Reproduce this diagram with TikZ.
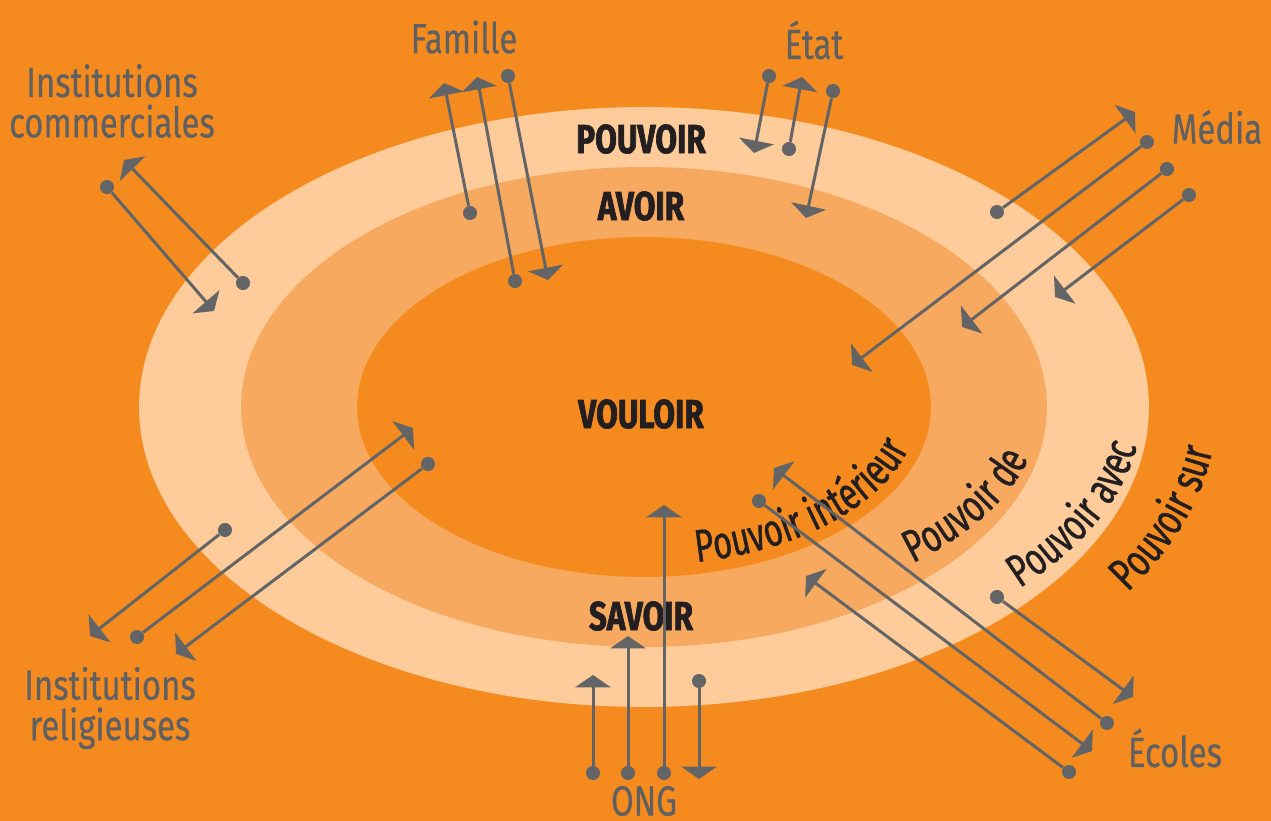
\documentclass[tikz,border=0pt]{standalone}
\usepackage{fontspec}
\setmainfont{Fira Sans}[FakeStretch=0.78,FakeBold=0.4,BoldFeatures={FakeBold=1.6}]
\newfontfamily\ringfamily{Fira Sans}[FakeStretch=0.71,FakeBold=1]
\usetikzlibrary{arrows.meta,decorations.text}
\definecolor{bgorange}{RGB}{245,139,31}
\definecolor{midband}{RGB}{248,169,96}
\definecolor{lightband}{RGB}{253,204,154}
\definecolor{arrowgray}{RGB}{99,100,102}
\definecolor{labelgray}{RGB}{95,96,98}
\definecolor{inkblack}{RGB}{35,31,32}
\newcommand\ringfont{\ringfamily\fontsize{26}{26}\selectfont\color{inkblack}}
\tikzset{
  >={Triangle[width=20pt,length=7pt]},
}
\tikzstyle{link}=[arrowgray,line width=1.7pt,->]
\tikzstyle{dot}=[circle,fill=arrowgray,inner sep=0pt,minimum size=8pt]
\tikzstyle{actor}=[labelgray,font=\fontsize{24}{23}\selectfont,align=center]
\tikzstyle{level}=[inkblack,font=\fontsize{23}{23}\selectfont\bfseries]
\tikzstyle{ring}=[decorate,decoration={text along path,text align=left}]

\begin{document}
\begin{tikzpicture}[x=0.02cm,y=-0.02cm]
    \useasboundingbox (0,0) rectangle (1271,821);
    \fill[bgorange] (0,0) rectangle (1271,821);
    \coordinate (centre) at (644,407);
    \fill[lightband] (centre) ellipse [x radius=10.1cm,y radius=6cm];
    \fill[midband] (centre) ellipse [x radius=8.06cm,y radius=4.8cm];
    \fill[bgorange] (centre) ellipse [x radius=5.74cm,y radius=3.4cm];

    \node[level] (pouvoir) at (641,139) {POUVOIR};
    \node[level] (avoir) at (641,206) {AVOIR};
    \node[level] (vouloir) at (641,414) {VOULOIR};
    \node[level] (savoir) at (641,616) {SAVOIR};

    \path[ring,decoration={text={|\ringfont|Pouvoir intérieur}}]
    (centre) ++(-78.9:5.49cm and 3.16cm)
    arc[start angle=-78.9,end angle=5,x radius=5.49cm,y radius=3.16cm];
    \path[ring,decoration={text={|\ringfont|Pouvoir de}}]
    (centre) ++(-47.3:7.93cm and 4.25cm)
    arc[start angle=-47.3,end angle=10,x radius=7.93cm,y radius=4.25cm];
    \path[ring,decoration={text={|\ringfont|Pouvoir avec}}]
    (centre) ++(-41:9.96cm and 5.52cm)
    arc[start angle=-41,end angle=10,x radius=9.96cm,y radius=5.52cm];
    \path[ring,decoration={text={|\ringfont|Pouvoir sur}}]
    (centre) ++(-32.4:11.46cm and 6.91cm)
    arc[start angle=-32.4,end angle=10,x radius=11.46cm,y radius=6.91cm];

    \node[actor] (famille) at (464,37) {Famille};
    \node[actor] (etat) at (814,40) {État};
    \node[actor] (media) at (1217,127) {Média};
    \node[actor] (commerce) at (112,101) {Institutions\\commerciales};
    \node[actor] (religion) at (110,708) {Institutions\\religieuses};
    \node[actor] (ong) at (644,801) {ONG};
    \node[actor] (ecoles) at (1175,748) {Écoles};

    \node[dot] (fam1) at (470,213) {}; \coordinate (fam1t) at (444,83);
    \node[dot] (fam2) at (515,281) {}; \coordinate (fam2t) at (477,77);
    \node[dot] (fam3) at (508,76) {}; \coordinate (fam3t) at (548,280);
    \draw[link] (fam1) -- (fam1t);
    \draw[link] (fam2) -- (fam2t);
    \draw[link] (fam3) -- (fam3t);

    \node[dot] (etat1) at (769,76) {}; \coordinate (etat1t) at (754,153);
    \node[dot] (etat2) at (789,149) {}; \coordinate (etat2t) at (802,77);
    \node[dot] (etat3) at (833,91) {}; \coordinate (etat3t) at (806,218);
    \draw[link] (etat1) -- (etat1t);
    \draw[link] (etat2) -- (etat2t);
    \draw[link] (etat3) -- (etat3t);

    \node[dot] (med1) at (997,212) {}; \coordinate (med1t) at (1135,112);
    \node[dot] (med2) at (1147,142) {}; \coordinate (med2t) at (852,365);
    \node[dot] (med3) at (1167,169) {}; \coordinate (med3t) at (962,327);
    \node[dot] (med4) at (1189,195) {}; \coordinate (med4t) at (1055,297);
    \draw[link] (med1) -- (med1t);
    \draw[link] (med2) -- (med2t);
    \draw[link] (med3) -- (med3t);
    \draw[link] (med4) -- (med4t);

    \node[dot] (com1) at (107,187) {}; \coordinate (com1t) at (214,311);
    \node[dot] (com2) at (243,283) {}; \coordinate (com2t) at (124,160);
    \draw[link] (com1) -- (com1t);
    \draw[link] (com2) -- (com2t);

    \node[dot] (rel1) at (225,530) {}; \coordinate (rel1t) at (90,636);
    \node[dot] (rel2) at (137,637) {}; \coordinate (rel2t) at (413,428);
    \node[dot] (rel3) at (428,464) {}; \coordinate (rel3t) at (176,654);
    \draw[link] (rel1) -- (rel1t);
    \draw[link] (rel2) -- (rel2t);
    \draw[link] (rel3) -- (rel3t);

    \node[dot] (ong1) at (593,773) {}; \coordinate (ong1t) at (593,675);
    \node[dot] (ong2) at (628,773) {}; \coordinate (ong2t) at (628,636);
    \node[dot] (ong3) at (664,773) {}; \coordinate (ong3t) at (664,505);
    \node[dot] (ong4) at (699,681) {}; \coordinate (ong4t) at (699,779);
    \draw[link] (ong1) -- (ong1t);
    \draw[link] (ong2) -- (ong2t);
    \draw[link] (ong3) -- (ong3t);
    \draw[link] (ong4) -- (ong4t);

    \node[dot] (eco1) at (997,597) {}; \coordinate (eco1t) at (1133,697);
    \node[dot] (eco2) at (1107,723) {}; \coordinate (eco2t) at (774,468);
    \node[dot] (eco3) at (759,501) {}; \coordinate (eco3t) at (1092,751);
    \node[dot] (eco4) at (1069,772) {}; \coordinate (eco4t) at (806,576);
    \draw[link] (eco1) -- (eco1t);
    \draw[link] (eco2) -- (eco2t);
    \draw[link] (eco3) -- (eco3t);
    \draw[link] (eco4) -- (eco4t);
\end{tikzpicture}
\end{document}
